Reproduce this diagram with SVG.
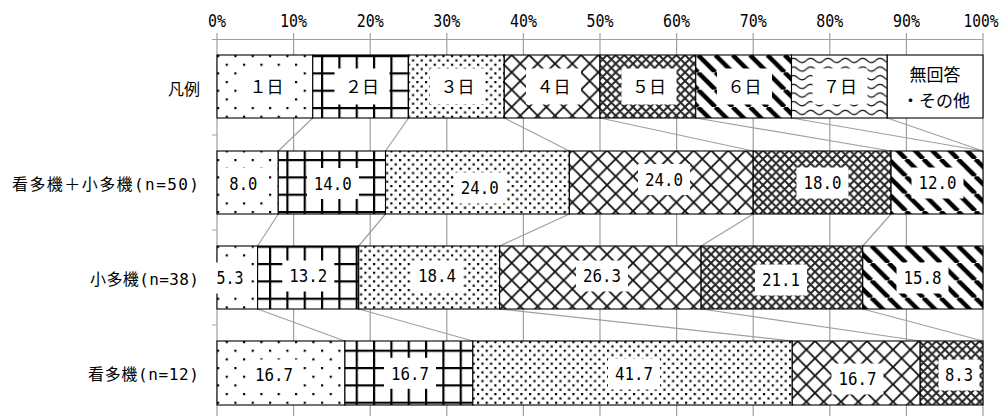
<svg xmlns="http://www.w3.org/2000/svg" width="1005" height="416" viewBox="0 0 1005 416">
<style>
.grid{stroke:#a0a0a0;stroke-width:1.2;fill:none}
.sl{stroke:#a0a0a0;stroke-width:1.2;fill:none}
.seg{stroke:#000;stroke-width:1.1}
.box{fill:#fff}
.num{font-family:"DejaVu Sans Mono","Liberation Mono",monospace;font-size:17.5px;text-anchor:middle;fill:#000}
.ax{font-family:"DejaVu Sans Mono","Liberation Mono",monospace;font-size:17px;text-anchor:middle;fill:#000}
.cat{font-family:"DejaVu Sans Mono","Noto Sans CJK JP",sans-serif;font-size:16px;text-anchor:end;fill:#000}
.leg{font-family:"Noto Sans CJK JP",sans-serif;font-size:17px;text-anchor:middle;fill:#000}
</style>
<defs>
<pattern id="p1" width="8" height="8" patternUnits="userSpaceOnUse" patternTransform="translate(217,55) scale(2.1667)">
<rect width="8" height="8" fill="#fff"/><rect x="0" y="0" width="1" height="1" fill="#000"/><rect x="4" y="4" width="1" height="1" fill="#000"/>
</pattern>
<pattern id="p2" width="8" height="8" patternUnits="userSpaceOnUse" patternTransform="translate(217,55) scale(2.1667)">
<rect width="8" height="8" fill="#fff"/><rect x="0" y="0" width="8" height="1" fill="#000"/><rect x="0" y="0" width="1" height="8" fill="#000"/>
</pattern>
<pattern id="p3" width="4" height="4" patternUnits="userSpaceOnUse" patternTransform="translate(217,55) scale(2.1667)">
<rect width="4" height="4" fill="#fff"/><rect x="0" y="0" width="1" height="1" fill="#000"/><rect x="2" y="2" width="1" height="1" fill="#000"/>
</pattern>
<pattern id="p4" width="8" height="8" patternUnits="userSpaceOnUse" patternTransform="translate(217,55) scale(2.1667)">
<rect width="8" height="8" fill="#fff"/><path d="M-1,-1 L9,9 M9,-1 L-1,9" stroke="#111" stroke-width="0.85"/>
</pattern>
<pattern id="p5" width="4" height="4" patternUnits="userSpaceOnUse" patternTransform="translate(217,55) scale(2.1667)">
<rect width="4" height="4" fill="#fff"/><path d="M-1,-1 L5,5 M5,-1 L-1,5 M-1,3 L1,5 M3,-1 L5,1 M3,5 L5,3 M-1,1 L1,-1" stroke="#222" stroke-width="0.9"/>
</pattern>
<pattern id="p6" width="8" height="8" patternUnits="userSpaceOnUse" patternTransform="translate(217,55) scale(2.1667)">
<rect width="8" height="8" fill="#fff"/><path d="M-2,0 L6,8 M6,0 L14,8 M-10,0 L-2,8" stroke="#000" stroke-width="2.1"/>
</pattern>
<pattern id="p7" width="8" height="4" patternUnits="userSpaceOnUse" patternTransform="translate(217,55) scale(2.1667)">
<rect width="8" height="4" fill="#fff"/><path d="M0,2.5 Q2,0.5 4,2.5 T8,2.5" stroke="#000" stroke-width="0.6" fill="none"/>
</pattern>
</defs>

<g id="axes">
<path class="grid" d="M217,33V416 M293.6,33V416 M370.2,33V416 M446.8,33V416 M523.4,33V416 M600,33V416 M676.6,33V416 M753.2,33V416 M829.8,33V416 M906.4,33V416 M983,33V416"/>
<path class="grid" d="M217,39.5H983 M212,39.5H217 M212,135H217 M212,230H217 M212,325H217"/>
<g id="tick-labels">
<text class="ax" x="217" y="27" textLength="18" lengthAdjust="spacingAndGlyphs">0%</text>
<text class="ax" x="293.6" y="27" textLength="27" lengthAdjust="spacingAndGlyphs">10%</text>
<text class="ax" x="370.2" y="27" textLength="27" lengthAdjust="spacingAndGlyphs">20%</text>
<text class="ax" x="446.8" y="27" textLength="27" lengthAdjust="spacingAndGlyphs">30%</text>
<text class="ax" x="523.4" y="27" textLength="27" lengthAdjust="spacingAndGlyphs">40%</text>
<text class="ax" x="600" y="27" textLength="27" lengthAdjust="spacingAndGlyphs">50%</text>
<text class="ax" x="676.6" y="27" textLength="27" lengthAdjust="spacingAndGlyphs">60%</text>
<text class="ax" x="753.2" y="27" textLength="27" lengthAdjust="spacingAndGlyphs">70%</text>
<text class="ax" x="829.8" y="27" textLength="27" lengthAdjust="spacingAndGlyphs">80%</text>
<text class="ax" x="906.4" y="27" textLength="27" lengthAdjust="spacingAndGlyphs">90%</text>
<text class="ax" x="981" y="27" textLength="35" lengthAdjust="spacingAndGlyphs">100%</text>
</g>
<g id="category-labels">
<text class="cat" x="200" y="94.5">凡例</text>
<text class="cat" x="199" y="189.5" textLength="187" lengthAdjust="spacing">看多機＋小多機(n=50)</text>
<text class="cat" x="199" y="284.5" textLength="109" lengthAdjust="spacing">小多機(n=38)</text>
<text class="cat" x="199" y="379.5" textLength="111" lengthAdjust="spacing">看多機(n=12)</text>
</g>
</g>

<g id="connectors">
<path class="sl" d="M312.75,118L278.28,151 M408.5,118L385.52,151 M504.25,118L569.36,151 M600,118L753.2,151 M695.75,118L891.08,151 M791.5,118L983,151 M887.25,118L983,151"/>
<path class="sl" d="M278.28,214L257.6,246 M385.52,214L358.71,246 M569.36,214L499.65,246 M753.2,214L701.11,246 M891.08,214L862.74,246"/>
<path class="sl" d="M257.6,309L344.92,341 M358.71,309L472.84,341 M499.65,309L792.27,341 M701.11,309L920.19,341 M862.74,309L983,341"/>
</g>

<g id="legend-row">
<rect class="seg" x="217" y="55" width="95.75" height="63" fill="url(#p1)"/>
<rect class="seg" x="312.75" y="55" width="95.75" height="63" fill="url(#p2)"/>
<rect class="seg" x="408.5" y="55" width="95.75" height="63" fill="url(#p3)"/>
<rect class="seg" x="504.25" y="55" width="95.75" height="63" fill="url(#p4)"/>
<rect class="seg" x="600" y="55" width="95.75" height="63" fill="url(#p5)"/>
<rect class="seg" x="695.75" y="55" width="95.75" height="63" fill="url(#p6)"/>
<rect class="seg" x="791.5" y="55" width="95.75" height="63" fill="url(#p7)"/>
<rect class="seg" x="887.25" y="55" width="95.75" height="63" fill="#fff"/>
<rect class="box" x="239" y="68.5" width="55" height="36"/>
<rect class="box" x="334.5" y="68.5" width="55" height="36"/>
<rect class="box" x="430" y="68.5" width="55" height="36"/>
<rect class="box" x="526" y="68.5" width="55" height="36"/>
<rect class="box" x="621.5" y="68.5" width="55" height="36"/>
<rect class="box" x="717" y="68.5" width="55" height="36"/>
<rect class="box" x="812.5" y="68.5" width="55" height="36"/>
<text class="leg" x="266.5" y="93">１日</text>
<text class="leg" x="362" y="93">２日</text>
<text class="leg" x="457.5" y="93">３日</text>
<text class="leg" x="553.5" y="93">４日</text>
<text class="leg" x="649" y="93">５日</text>
<text class="leg" x="744.5" y="93">６日</text>
<text class="leg" x="840" y="93">７日</text>
<text class="leg" x="935" y="80.5">無回答</text>
<text class="leg" x="936" y="106.5">・その他</text>
</g>

<g id="row-all">
<rect class="seg" x="217" y="151" width="61.28" height="63" fill="url(#p1)"/>
<rect class="seg" x="278.28" y="151" width="107.24" height="63" fill="url(#p2)"/>
<rect class="seg" x="385.52" y="151" width="183.84" height="63" fill="url(#p3)"/>
<rect class="seg" x="569.36" y="151" width="183.84" height="63" fill="url(#p4)"/>
<rect class="seg" x="753.2" y="151" width="137.88" height="63" fill="url(#p5)"/>
<rect class="seg" x="891.08" y="151" width="91.92" height="63" fill="url(#p6)"/>
<rect class="box" x="222" y="168" width="43" height="31"/>
<rect class="box" x="307" y="168" width="52" height="31"/>
<rect class="box" x="454" y="172.5" width="52" height="31"/>
<rect class="box" x="638" y="164" width="52" height="31"/>
<rect class="box" x="796.5" y="167.5" width="52" height="31"/>
<rect class="box" x="911.5" y="167.5" width="52" height="31"/>
<text class="num" x="243.3" y="189.5" textLength="28" lengthAdjust="spacingAndGlyphs">8.0</text>
<text class="num" x="332.8" y="189.5" textLength="38" lengthAdjust="spacingAndGlyphs">14.0</text>
<text class="num" x="479.7" y="194.2" textLength="38" lengthAdjust="spacingAndGlyphs">24.0</text>
<text class="num" x="664" y="185.9" textLength="38" lengthAdjust="spacingAndGlyphs">24.0</text>
<text class="num" x="822.5" y="189.2" textLength="38" lengthAdjust="spacingAndGlyphs">18.0</text>
<text class="num" x="937.5" y="189.2" textLength="38" lengthAdjust="spacingAndGlyphs">12.0</text>
</g>

<g id="row-small">
<rect class="seg" x="217" y="246" width="40.6" height="63" fill="url(#p1)"/>
<rect class="seg" x="257.6" y="246" width="101.11" height="63" fill="url(#p2)"/>
<rect class="seg" x="358.71" y="246" width="140.94" height="63" fill="url(#p3)"/>
<rect class="seg" x="499.65" y="246" width="201.46" height="63" fill="url(#p4)"/>
<rect class="seg" x="701.11" y="246" width="161.63" height="63" fill="url(#p5)"/>
<rect class="seg" x="862.74" y="246" width="120.26" height="63" fill="url(#p6)"/>
<rect class="box" x="209" y="262.5" width="42" height="31"/>
<rect class="box" x="282.3" y="260.5" width="52" height="31"/>
<rect class="box" x="411" y="260.5" width="52" height="31"/>
<rect class="box" x="576" y="260.5" width="52" height="31"/>
<rect class="box" x="755" y="264.5" width="52" height="31"/>
<rect class="box" x="896.5" y="262.5" width="52" height="31"/>
<text class="num" x="230" y="284.2" textLength="27" lengthAdjust="spacingAndGlyphs">5.3</text>
<text class="num" x="308.3" y="282.2" textLength="38" lengthAdjust="spacingAndGlyphs">13.2</text>
<text class="num" x="437" y="282.2" textLength="38" lengthAdjust="spacingAndGlyphs">18.4</text>
<text class="num" x="602" y="282.2" textLength="38" lengthAdjust="spacingAndGlyphs">26.3</text>
<text class="num" x="781" y="286.2" textLength="38" lengthAdjust="spacingAndGlyphs">21.1</text>
<text class="num" x="922.5" y="284.2" textLength="38" lengthAdjust="spacingAndGlyphs">15.8</text>
</g>

<g id="row-nurse">
<rect class="seg" x="217" y="341" width="127.92" height="64" fill="url(#p1)"/>
<rect class="seg" x="344.92" y="341" width="127.92" height="64" fill="url(#p2)"/>
<rect class="seg" x="472.84" y="341" width="319.43" height="64" fill="url(#p3)"/>
<rect class="seg" x="792.27" y="341" width="127.92" height="64" fill="url(#p4)"/>
<rect class="seg" x="920.19" y="341" width="62.81" height="64" fill="url(#p5)"/>
<rect class="box" x="248" y="359.5" width="52" height="31"/>
<rect class="box" x="384" y="357.8" width="52" height="31"/>
<rect class="box" x="608" y="358.5" width="52" height="31"/>
<rect class="box" x="831.5" y="363.5" width="52" height="31"/>
<rect class="box" x="938.5" y="359.5" width="41" height="31"/>
<text class="num" x="274" y="381.2" textLength="38" lengthAdjust="spacingAndGlyphs">16.7</text>
<text class="num" x="410" y="379.5" textLength="38" lengthAdjust="spacingAndGlyphs">16.7</text>
<text class="num" x="634" y="380.2" textLength="38" lengthAdjust="spacingAndGlyphs">41.7</text>
<text class="num" x="857.5" y="385.2" textLength="38" lengthAdjust="spacingAndGlyphs">16.7</text>
<text class="num" x="959" y="381.2" textLength="28" lengthAdjust="spacingAndGlyphs">8.3</text>
</g>
</svg>
